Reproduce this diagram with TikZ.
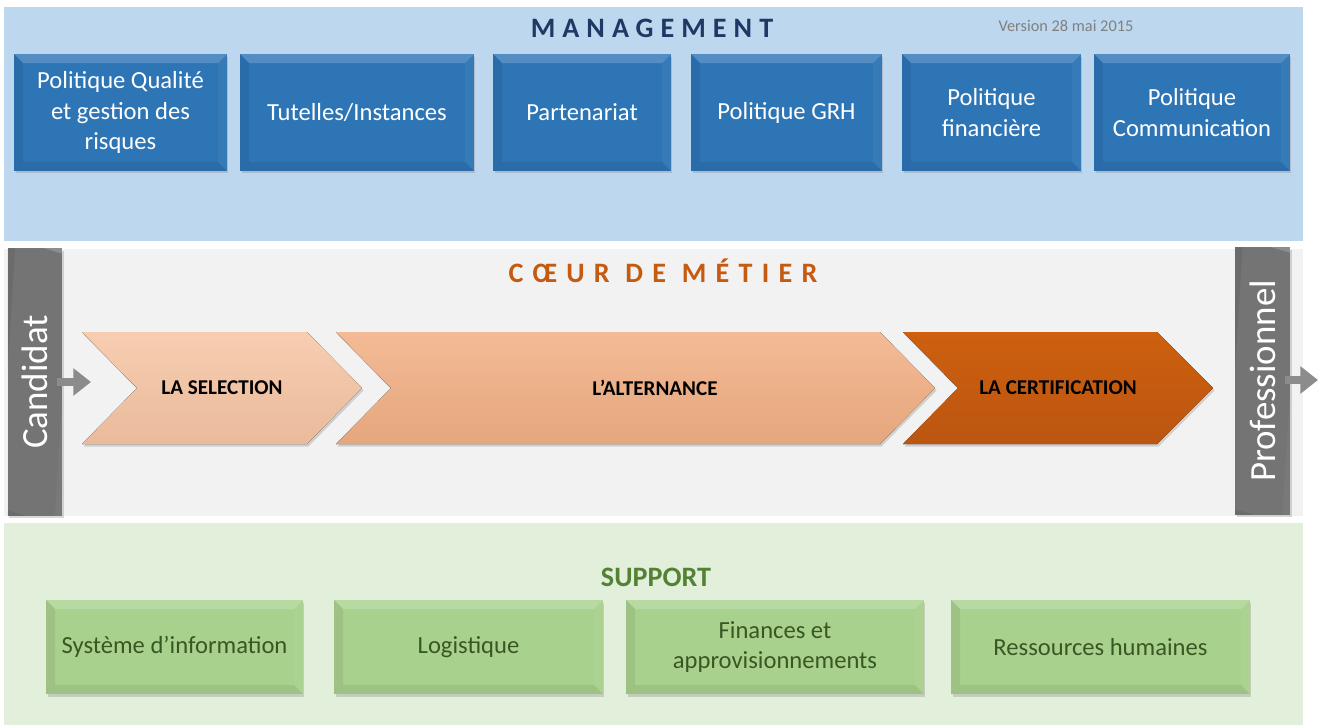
\documentclass[tikz,border=0pt]{standalone}
\usepackage{fontspec}
\setmainfont{Carlito}
\newfontfamily\spacedfont[LetterSpace=25]{Carlito}
\newfontfamily\widerfont[LetterSpace=33]{Carlito}
\usetikzlibrary{arrows.meta,shadows}

\definecolor{mgmtband}{HTML}{BDD7EE}
\definecolor{bluebox}{HTML}{2E75B6}
\definecolor{coreband}{HTML}{F2F2F2}
\definecolor{barcol}{HTML}{747474}
\definecolor{supband}{HTML}{E2EFDA}
\definecolor{greenbox}{HTML}{A9D18E}
\definecolor{greentext}{HTML}{385723}
\definecolor{suptitle}{HTML}{548235}
\definecolor{navy}{HTML}{203864}
\definecolor{rust}{HTML}{C55A11}
\definecolor{selcol}{HTML}{F6C4A3}
\definecolor{altcol}{HTML}{F1AF83}

\tikzset{
  bevel/.style={path picture={
      \fill[white,opacity=.18] (path picture bounding box.north west) -- (path picture bounding box.north east)
        -- ([shift={(-#1,-#1)}]path picture bounding box.north east)
        -- ([shift={(#1,-#1)}]path picture bounding box.north west) -- cycle;
      \fill[black,opacity=.07] (path picture bounding box.south west) -- (path picture bounding box.south east)
        -- ([shift={(-#1,#1)}]path picture bounding box.south east)
        -- ([shift={(#1,#1)}]path picture bounding box.south west) -- cycle;
      \fill[black,opacity=.07] (path picture bounding box.north west) -- ([shift={(#1,-#1)}]path picture bounding box.north west)
        -- ([shift={(#1,#1)}]path picture bounding box.south west) -- (path picture bounding box.south west) -- cycle;
      \fill[white,opacity=.04] (path picture bounding box.north east) -- ([shift={(-#1,-#1)}]path picture bounding box.north east)
        -- ([shift={(-#1,#1)}]path picture bounding box.south east) -- (path picture bounding box.south east) -- cycle;
  }},
  shade/.style={drop shadow={opacity=.3,shadow xshift=.03cm,shadow yshift=-.05cm}},
  mbox/.style={shade, fill=bluebox, bevel=.18cm, text=white, align=center, inner sep=0pt,
    minimum height=2.34cm, font=\fontsize{14}{17.2}\selectfont},
  sbox/.style={shade, fill=greenbox, bevel=.18cm, text=greentext, align=center, inner sep=0pt,
    minimum height=1.88cm, font=\fontsize{14}{17.2}\selectfont},
  bar/.style={shade, fill=barcol, bevel=.16cm, text=white, rotate=90, inner sep=0pt,
    minimum width=5.36cm, minimum height=1.1cm, font=\fontsize{21}{24}\selectfont},
  chev/.style={shade},
  chevtext/.style={font=\bfseries\fontsize{12}{14}\selectfont},
  bigtitle/.style={font=\spacedfont\bfseries\fontsize{16}{19}\selectfont},
  garrow/.style={draw=black!45, line width=4pt, -{Triangle[length=10pt,width=15pt]}},
}

\begin{document}
\begin{tikzpicture}[x=0.02cm, y=-0.02cm]
  \useasboundingbox (0,0) rectangle (1322,725);

  % bands
  \fill[mgmtband] (4,7) rectangle (1303,241);
  \fill[coreband] (4,249) rectangle (1303,516);
  \fill[supband] (4,523) rectangle (1303,725);

  % management
  \node[bigtitle, text=navy] (mgmt) at (652,28) {MANAGEMENT};
  \node[text=black!50, font=\fontsize{9.3}{11}\selectfont] (version) at (1066,26) {Version 28 mai 2015};

  \node[mbox, minimum width=4.26cm] (qual) at (120.5,112.5) {Politique Qualité\\et gestion des\\risques};
  \node[mbox, minimum width=4.68cm] (tut) at (357,112.5) {Tutelles/Instances};
  \node[mbox, minimum width=3.56cm] (part) at (582,112.5) {Partenariat};
  \node[mbox, minimum width=3.82cm] (grh) at (786.5,112.5) {Politique GRH};
  \node[mbox, minimum width=3.58cm] (fin) at (991.5,112.5) {Politique\\financière};
  \node[mbox, minimum width=3.92cm] (com) at (1192,112.5) {Politique\\Communication};

  % coeur de metier
  \node[font=\widerfont\bfseries\fontsize{16}{19}\selectfont, text=rust] (coeur) at (663,271) {CŒUR DE MÉTIER};

  \node[bar] (cand) at (35,382) {Candidat};
  \node[bar] (pro) at (1262.5,381) {Professionnel};

  \fill[chev, top color=selcol!85!white, bottom color=selcol!95!black]
    (82,332) -- (307,332) -- (362,388) -- (307,444) -- (82,444) -- (137,388) -- cycle;
  \fill[chev, top color=altcol!85!white, bottom color=altcol!95!black]
    (336,332) -- (880,332) -- (935,388) -- (880,444) -- (336,444) -- (391,388) -- cycle;
  \fill[chev, top color=rust!85!orange, bottom color=rust!95!black]
    (903,332) -- (1157,332) -- (1213,388) -- (1157,444) -- (903,444) -- (958,388) -- cycle;

  \node[chevtext] (sel) at (222,388) {LA SELECTION};
  \node[chevtext] (alt) at (655,388) {L’ALTERNANCE};
  \node[chevtext] (cert) at (1058,388) {LA CERTIFICATION};

  \coordinate (cin0) at (57,382);
  \coordinate (cin1) at (91,382);
  \coordinate (pout0) at (1285,380);
  \coordinate (pout1) at (1318,380);
  \draw[garrow] (cin0) -- (cin1);
  \draw[garrow] (pout0) -- (pout1);

  % support
  \node[text=suptitle, font=\bfseries\fontsize{16}{19}\selectfont] (supp) at (656,577) {SUPPORT};

  \node[sbox, minimum width=5.14cm] (si) at (174.5,647) {Système d’information};
  \node[sbox, minimum width=5.38cm] (log) at (468.5,647) {Logistique};
  \node[sbox, minimum width=5.96cm] (appro) at (775,647) {Finances et\\approvisionnements};
  \node[sbox, minimum width=5.98cm] (rh) at (1100.5,647) {Ressources humaines};
\end{tikzpicture}
\end{document}
